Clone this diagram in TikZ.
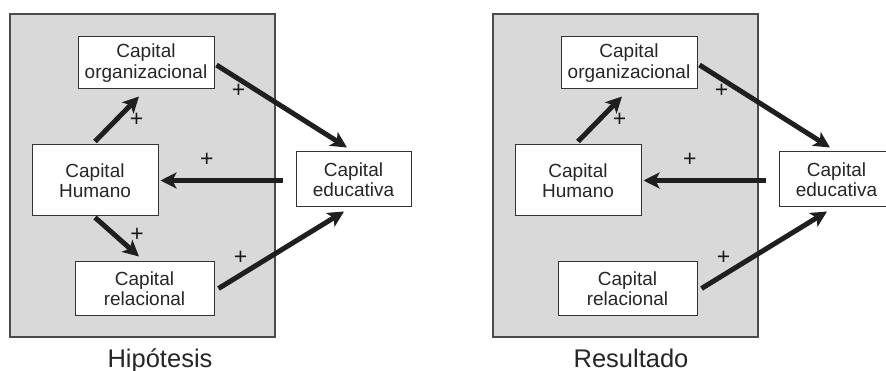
\documentclass[tikz,border=0pt]{standalone}
\usepackage{fontspec}
\setmainfont{Liberation Sans}
\usetikzlibrary{arrows.meta}

\begin{document}
\begin{tikzpicture}[
    x=1pt,y=-1pt,
    panel/.style={draw=black!70,fill=black!15,line width=1.1pt},
    box/.style={rectangle,draw=black!80,fill=white,line width=1pt,inner sep=0pt,align=center,
      text=black!85,font=\fontsize{19}{20.5}\selectfont},
    arrow/.style={-{Stealth[length=16pt,width=16pt,inset=4pt]},line width=5pt,draw=black!88},
    plus/.style={text=black!90,font=\fontsize{23}{23}\selectfont,inner sep=0pt},
    caption/.style={text=black!85,font=\fontsize{25.5}{28}\selectfont,anchor=base,inner sep=0pt}
  ]
    \clip (0,0) rectangle (886,371);

    % Hipotesis
    \node[panel,minimum width=265pt,minimum height=323pt] (hpanel) at (142.5,175.5) {};
    \node[box,minimum width=136pt,minimum height=52pt] (horg) at (146,63) {Capital\\organizacional};
    \node[box,minimum width=126pt,minimum height=71pt] (hhum) at (95,180.5) {Capital\\Humano};
    \node[box,minimum width=139pt,minimum height=53pt] (hrel) at (144.5,288.5) {Capital\\relacional};
    \node[box,minimum width=115pt,minimum height=55pt] (hedu) at (353.5,179.5) {Capital\\educativa};
    \node[caption] (hcap) at (160,367) {Hipótesis};

    \draw[arrow] ([yshift=3pt]hhum.north) -- node[plus,xshift=19.5pt,yshift=-1pt]{+} ([shift={(-7pt,-7pt)}]horg.south);
    \draw[arrow] ([shift={(2pt,-2pt)}]horg.east) -- node[plus,pos=0.17,yshift=-12pt]{+} ([shift={(-6.5pt,4pt)}]hedu.north);
    \draw[arrow] ([shift={(-13pt,-1pt)}]hedu.west) -- node[plus,pos=0.62,yshift=20.5pt]{+} ([xshift=2pt]hhum.east);
    \draw[arrow] ([yshift=-1pt]hhum.south) -- node[plus,xshift=20pt,yshift=2pt]{+} ([shift={(-5.5pt,5pt)}]hrel.north);
    \draw[arrow] ([xshift=4pt]hrel.east) -- node[plus,pos=0.175,yshift=17pt]{+} ([shift={(-9.5pt,-4pt)}]hedu.south);

    % Resultado
    \begin{scope}[xshift=483pt]
      \node[panel,minimum width=265pt,minimum height=323pt] (rpanel) at (142.5,175.5) {};
      \node[box,minimum width=136pt,minimum height=52pt] (rorg) at (146,63) {Capital\\organizacional};
      \node[box,minimum width=126pt,minimum height=71pt] (rhum) at (95,180.5) {Capital\\Humano};
      \node[box,minimum width=139pt,minimum height=53pt] (rrel) at (144.5,288.5) {Capital\\relacional};
      \node[box,minimum width=115pt,minimum height=55pt] (redu) at (353.5,179.5) {Capital\\educativa};
      \node[caption] (rcap) at (148,367) {Resultado};

      \draw[arrow] ([yshift=3pt]rhum.north) -- node[plus,xshift=19.5pt,yshift=-1pt]{+} ([shift={(-7pt,-7pt)}]rorg.south);
      \draw[arrow] ([shift={(2pt,-2pt)}]rorg.east) -- node[plus,pos=0.17,yshift=-12pt]{+} ([shift={(-6.5pt,4pt)}]redu.north);
      \draw[arrow] ([shift={(-13pt,-1pt)}]redu.west) -- node[plus,pos=0.62,yshift=20.5pt]{+} ([xshift=2pt]rhum.east);
      \draw[arrow] ([xshift=4pt]rrel.east) -- node[plus,pos=0.175,yshift=17pt]{+} ([shift={(-9.5pt,-4pt)}]redu.south);
    \end{scope}
\end{tikzpicture}
\end{document}
